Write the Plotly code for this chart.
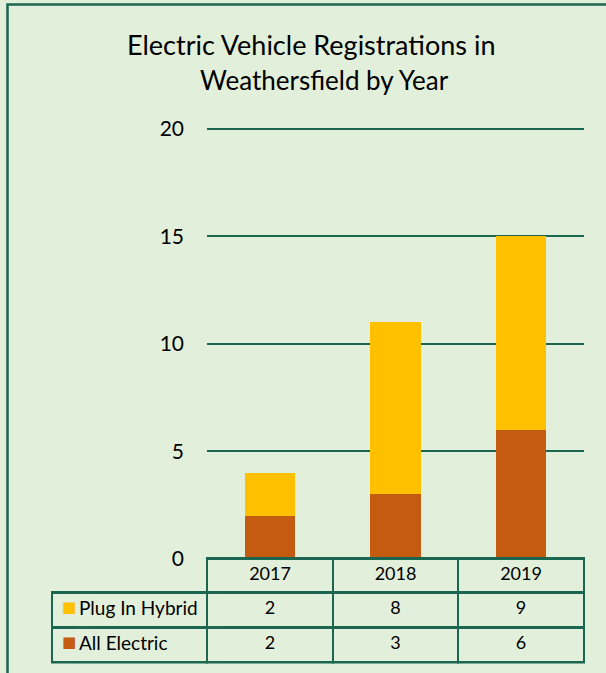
import plotly.graph_objects as go

years = ["2017", "2018", "2019"]
plug_in_hybrid = [2, 8, 9]
all_electric = [2, 3, 6]
series_names = ["Plug In Hybrid", "All Electric"]
title_lines = ["Electric Vehicle Registrations in", "Weathersfield by Year"]

BG = "#E2EFDA"
GREEN = "#1B6651"
C_HYB = "#FFC000"
C_ELE = "#C55A11"
CLEAR = "rgba(0,0,0,0)"
FONT = "Lato"

W, H = 606, 673


def py(pix):
    return 1 - pix / H


def nowrap(s):
    # non-breaking spaces keep the table from wrapping the label
    return s.replace(" ", "\u00a0")


fig = go.Figure()
fig.add_trace(go.Bar(x=years, y=all_electric, name=series_names[1],
                     marker=dict(color=C_ELE, line=dict(width=0)), width=0.4))
fig.add_trace(go.Bar(x=years, y=plug_in_hybrid, name=series_names[0],
                     marker=dict(color=C_HYB, line=dict(width=0)), width=0.4))

y_dom = [py(663.5), py(558.5)]
colw = [155, 126, 125, 126]

# main data table: grid + values
cols = [["", ""]] + [[str(h), str(e)] for h, e in zip(plug_in_hybrid, all_electric)]
fig.add_trace(go.Table(
    domain=dict(x=[52 / W, 584 / W], y=y_dom),
    columnwidth=colw,
    header=dict(values=[""] + years,
                height=34,
                fill=dict(color=[CLEAR, BG, BG, BG]),
                line=dict(color=[CLEAR, GREEN, GREEN, GREEN], width=2.5),
                align="center",
                font=dict(family=FONT, size=18, color="black")),
    cells=dict(values=cols,
               height=35,
               fill=dict(color=BG),
               line=dict(color=GREEN, width=2.5),
               align="center",
               font=dict(family=FONT, size=18, color="black")),
))

# coloured legend keys
fig.add_trace(go.Table(
    domain=dict(x=[54 / W, 77 / W], y=y_dom),
    header=dict(values=[""], height=34,
                fill=dict(color=CLEAR), line=dict(color=CLEAR, width=2.5),
                font=dict(family=FONT, size=18, color=CLEAR)),
    cells=dict(values=[["■", "■"]],
               height=35,
               fill=dict(color=CLEAR),
               line=dict(color=CLEAR, width=2.5),
               align="left",
               font=dict(family="DejaVu Sans", size=15, color=[[C_HYB, C_ELE]])),
))

# series labels
fig.add_trace(go.Table(
    domain=dict(x=[71 / W, 206 / W], y=y_dom),
    header=dict(values=[""], height=34,
                fill=dict(color=CLEAR), line=dict(color=CLEAR, width=2.5),
                font=dict(family=FONT, size=18, color=CLEAR)),
    cells=dict(values=[[nowrap(series_names[0]), nowrap(series_names[1])]],
               height=35,
               fill=dict(color=CLEAR),
               line=dict(color=CLEAR, width=2.5),
               align="left",
               font=dict(family=FONT, size=19, color="black")),
))

fig.update_layout(
    width=W, height=H,
    margin=dict(l=0, r=0, t=0, b=0, autoexpand=False),
    paper_bgcolor=BG, plot_bgcolor=BG,
    barmode="stack",
    showlegend=False,
    font=dict(family=FONT, color="black"),
    xaxis=dict(domain=[207 / W, 584 / W], type="category", range=[-0.5, 2.5],
               showticklabels=False, showgrid=False, zeroline=False, ticks="",
               automargin=False),
    yaxis=dict(domain=[py(559), py(126.4)], range=[0, 20.1], tickvals=[0, 5, 10, 15, 20],
               showgrid=True, gridcolor=GREEN, gridwidth=2, zeroline=False,
               ticks="", ticklabelstandoff=22, automargin=False,
               tickfont=dict(family=FONT, size=21, color="black")),
    annotations=[
        dict(text=title_lines[0], xref="paper", yref="paper", x=311 / W, y=py(45),
             xanchor="center", yanchor="middle", showarrow=False,
             font=dict(family=FONT, size=27, color="black")),
        dict(text=title_lines[1], xref="paper", yref="paper", x=324 / W, y=py(80),
             xanchor="center", yanchor="middle", showarrow=False,
             font=dict(family=FONT, size=26, color="black")),
    ],
    shapes=[dict(type="rect", xref="paper", yref="paper",
                 x0=7.5 / W, x1=1.05, y0=-0.05, y1=py(4.5),
                 line=dict(color=GREEN, width=2.5), fillcolor=CLEAR,
                 layer="above")],
)

fig.write_html("out.html", config={"displayModeBar": False},
               post_script="document.body.style.margin='0';")
